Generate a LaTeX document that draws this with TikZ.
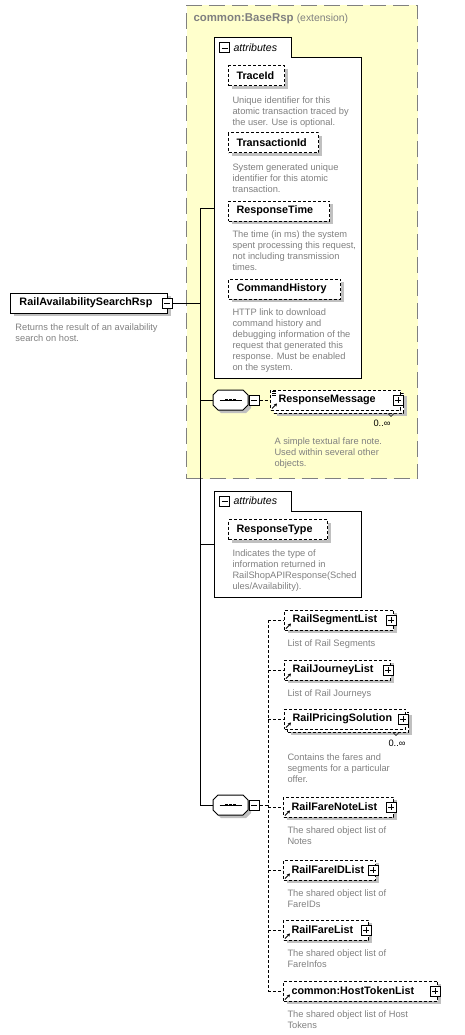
\documentclass[tikz,border=0pt]{standalone}
\usepackage{fontspec}
\setmainfont{Liberation Sans}
\usetikzlibrary{shadows,arrows.meta}

\definecolor{xsdyellow}{HTML}{FFFFCC}
\definecolor{xsdgray}{HTML}{808080}
\definecolor{xsdshadow}{HTML}{C0C0C0}

\newcommand{\namefont}{\fontsize{10.8}{13}\selectfont\bfseries\hyphenpenalty=10000 }
\newcommand{\descfont}{\fontsize{9.3}{10.9}\selectfont}
% octagon of a sequence compositor, round the centre of node #1, moved by #2
\newcommand{\octpath}[2]{([shift={#2}]#1.center) ++(-12.5,-10) -- ++(25,0) -- ++(5,5)
  -- ++(0,10) -- ++(-5,5) -- ++(-25,0) -- ++(-5,-5) -- ++(0,-10) -- cycle}

\tikzset{
  elem/.style={draw, dash pattern=on 3pt off 2pt, fill=white, anchor=west,
    minimum height=20, text width=#1, align=left, inner xsep=8, inner ysep=0,
    font=\namefont},
  rootbox/.style={draw, fill=white, anchor=west, minimum height=20,
    text width=#1, align=left, inner xsep=9, inner ysep=0, font=\namefont},
  sdw/.style={drop shadow={shadow xshift=3pt, shadow yshift=-3pt,
    fill=xsdshadow, opacity=1}},
  desc/.style={anchor=north west, align=left, inner sep=0, text=xsdgray,
    font=\descfont},
  plusbox/.style={draw, solid, fill=white, minimum size=10, inner sep=0,
    path picture={\draw[line width=.8pt]
      ([xshift=2]path picture bounding box.west) -- ([xshift=-2]path picture bounding box.east)
      ([yshift=-2]path picture bounding box.north) -- ([yshift=2]path picture bounding box.south);}},
  minusbox/.style={draw, solid, fill=white, minimum size=10, inner sep=0,
    path picture={\draw[line width=.8pt]
      ([xshift=2]path picture bounding box.west) -- ([xshift=-2]path picture bounding box.east);}},
  seqnode/.style={minimum width=35, minimum height=20, inner sep=0},
  extbox/.style={draw=xsdgray, fill=xsdyellow, dash pattern=on 16pt off 7pt,
    anchor=north west, inner sep=0},
  attrlabel/.style={anchor=west, inner sep=0, font=\fontsize{10.6}{12}\selectfont\itshape},
  dashline/.style={dash pattern=on 3pt off 2pt},
  refarrow/.style={line width=.9pt, -{Stealth[length=3pt,width=3.5pt]}},
  count/.style={anchor=east, inner sep=0, font=\descfont}
}

\begin{document}
\begin{tikzpicture}[x=1pt,y=-1pt,line width=1pt]
\useasboundingbox (0,0) rectangle (464,1035);

% extension of common:BaseRsp
\node[extbox, minimum width=231, minimum height=473] (ext) at (186,5) {};
\node[anchor=west, inner sep=0, text=xsdgray] (ext-t) at (193,19)
  {\fontsize{11.4}{13}\selectfont\bfseries common:BaseRsp \fontsize{10.4}{13}\selectfont\mdseries(extension)};

% root element
\node[rootbox=139, sdw] (root) at (10,303) {RailAvailabilitySearchRsp};
\node[minusbox] (root-m) at ([xshift=-1]root.east) {};
\node[desc] (root-d) at ([shift={(5,9.5)}]root.south west) {Returns the result of an availability\\search on host.};
\coordinate (trunk) at (200,303);

% first attribute group
\node[anchor=north west, minimum width=146, minimum height=339, inner sep=0] (a1) at (214,38) {};
\node[anchor=north west, minimum width=76, minimum height=19, inner sep=0] (a1-tab) at (214,38) {};
\draw[fill=white] (a1.north west) -- (a1-tab.north east) -- (a1-tab.south east)
  -- (a1-tab.south east -| a1.east) -- (a1.south east) -- (a1.south west) -- cycle;
\node[minusbox] (a1-m) at (224.5,48) {};
\node[attrlabel] (a1-l) at (233,48) {attributes};

\node[elem=40, sdw] (tid) at (228,76) {TraceId};
\node[desc] (tid-d) at ([shift={(4,9.5)}]tid.south west) {Unique identifier for this\\atomic transaction traced by\\the user. Use is optional.};
\node[elem=74, sdw] (trid) at (228,143) {TransactionId};
\node[desc] (trid-d) at ([shift={(4,9.5)}]trid.south west) {System generated unique\\identifier for this atomic\\transaction.};
\node[elem=85, sdw] (rtime) at (228,211) {ResponseTime};
\node[desc] (rtime-d) at ([shift={(4,9)}]rtime.south west) {The time (in ms) the system\\spent processing this request,\\not including transmission\\times.};
\node[elem=96, sdw] (cmdh) at (228,289) {CommandHistory};
\node[desc] (cmdh-d) at ([shift={(4,9)}]cmdh.south west) {HTTP link to download\\command history and\\debugging information of the\\request that generated this\\response. Must be enabled\\on the system.};

% first sequence
\node[seqnode] (s1) at (230.5,400) {};
\fill[xsdshadow] \octpath{s1}{(3,3)};
\draw[fill=white] \octpath{s1}{(0,0)};
\draw ([xshift=7]s1.west) -- ([xshift=-7]s1.east);
\foreach \dx in {-4,0,4}
  \fill ([shift={(\dx-1.3,-1.3)}]s1.center) rectangle ++(2.6,2.6);
\node[minusbox] (s1-m) at (254,400) {};
\draw (s1.east) -- (s1-m.west);

\node[elem=114, sdw] (rm-b) at (273,403) {\phantom{R}};
\node[elem=114] (rm) at (270,400) {ResponseMessage};
\node[plusbox] (rm-p) at ([xshift=-3]rm.east) {};
\foreach \dy in {2,4,6}
  \draw[line width=.6pt] ([shift={(2,\dy)}]rm.north west) -- ++(4,0);
\draw[refarrow] ([shift={(2,-2)}]rm.south west) -- ++(5,-5);
\draw[line width=.6pt] ([xshift=-16]rm-b.south east) -- ++(3,3) -- ++(3,-3);
\node[count] (rm-n) at (391,423) {0..∞};
\node[desc] (rm-d) at (274,437.5) {A simple textual fare note.\\Used within several other\\objects.};
\draw[dashline] (s1-m.east) -- (rm.west);

% second attribute group
\node[anchor=north west, minimum width=146, minimum height=105, inner sep=0] (a2) at (214,491) {};
\node[anchor=north west, minimum width=76, minimum height=19, inner sep=0] (a2-tab) at (214,491) {};
\draw[fill=white] (a2.north west) -- (a2-tab.north east) -- (a2-tab.south east)
  -- (a2-tab.south east -| a2.east) -- (a2.south east) -- (a2.south west) -- cycle;
\node[minusbox] (a2-m) at (224.5,501) {};
\node[attrlabel] (a2-l) at (233,501) {attributes};
\node[elem=83, sdw] (rtype) at (228,529.5) {ResponseType};
\node[desc] (rtype-d) at ([shift={(4,9.5)}]rtype.south west) {Indicates the type of\\information returned in\\RailShopAPIResponse(Sched\\ules/Availability).};

% second sequence
\node[seqnode] (s2) at (230.5,805) {};
\fill[xsdshadow] \octpath{s2}{(3,3)};
\draw[fill=white] \octpath{s2}{(0,0)};
\draw ([xshift=7]s2.west) -- ([xshift=-7]s2.east);
\foreach \dx in {-4,0,4}
  \fill ([shift={(\dx-1.3,-1.3)}]s2.center) rectangle ++(2.6,2.6);
\node[minusbox] (s2-m) at (254,805) {};
\draw (s2.east) -- (s2-m.west);
\coordinate (s2-j) at (268,805);

\node[elem=93, sdw] (seg) at (284,620) {RailSegmentList};
\node[desc] (seg-d) at ([shift={(3,8.5)}]seg.south west) {List of Rail Segments};
\node[elem=90, sdw] (jrn) at (284,670) {RailJourneyList};
\node[desc] (jrn-d) at ([shift={(3,8.5)}]jrn.south west) {List of Rail Journeys};
\node[elem=105, sdw] (prc-b) at (287,722) {\phantom{R}};
\node[elem=105] (prc) at (284,719) {RailPricingSolution};
\draw[line width=.6pt] ([xshift=-16]prc-b.south east) -- ++(3,3) -- ++(3,-3);
\node[count] (prc-n) at (406,743) {0..∞};
\node[desc] (prc-d) at (287,753.5) {Contains the fares and\\segments for a particular\\offer.};
\node[elem=94, sdw] (fnl) at (283,807) {RailFareNoteList};
\node[desc] (fnl-d) at ([shift={(4,9)}]fnl.south west) {The shared object list of\\Notes};
\node[elem=76, sdw] (fid) at (283,870) {RailFareIDList};
\node[desc] (fid-d) at ([shift={(4,8.5)}]fid.south west) {The shared object list of\\FareIDs};
\node[elem=69, sdw] (frl) at (283,930) {RailFareList};
\node[desc] (frl-d) at ([shift={(4,9)}]frl.south west) {The shared object list of\\FareInfos};
\node[elem=138, sdw] (htl) at (283,991) {common:HostTokenList};
\node[desc] (htl-d) at ([shift={(4,8.5)}]htl.south west) {The shared object list of Host\\Tokens};

\foreach \n in {seg,jrn,prc,fnl,fid,frl,htl} {
  \node[plusbox] (\n-p) at ([xshift=-3]\n.east) {};
  \draw[refarrow] ([shift={(2,-2)}]\n.south west) -- ++(5,-5);
  \draw[dashline] (\n.west -| s2-j) -- (\n.west);
}
\draw[dashline] (s2-m.east) -- (s2-j);
\draw[dashline] (seg.west -| s2-j) -- (htl.west -| s2-j);

% trunk
\draw (root-m.east) -- (trunk);
\draw (a1.west) -- (a1.west -| trunk) -- (s2.west -| trunk) -- (s2.west);
\draw (s1.west -| trunk) -- (s1.west);
\draw (a2.west -| trunk) -- (a2.west);
\end{tikzpicture}
\end{document}
